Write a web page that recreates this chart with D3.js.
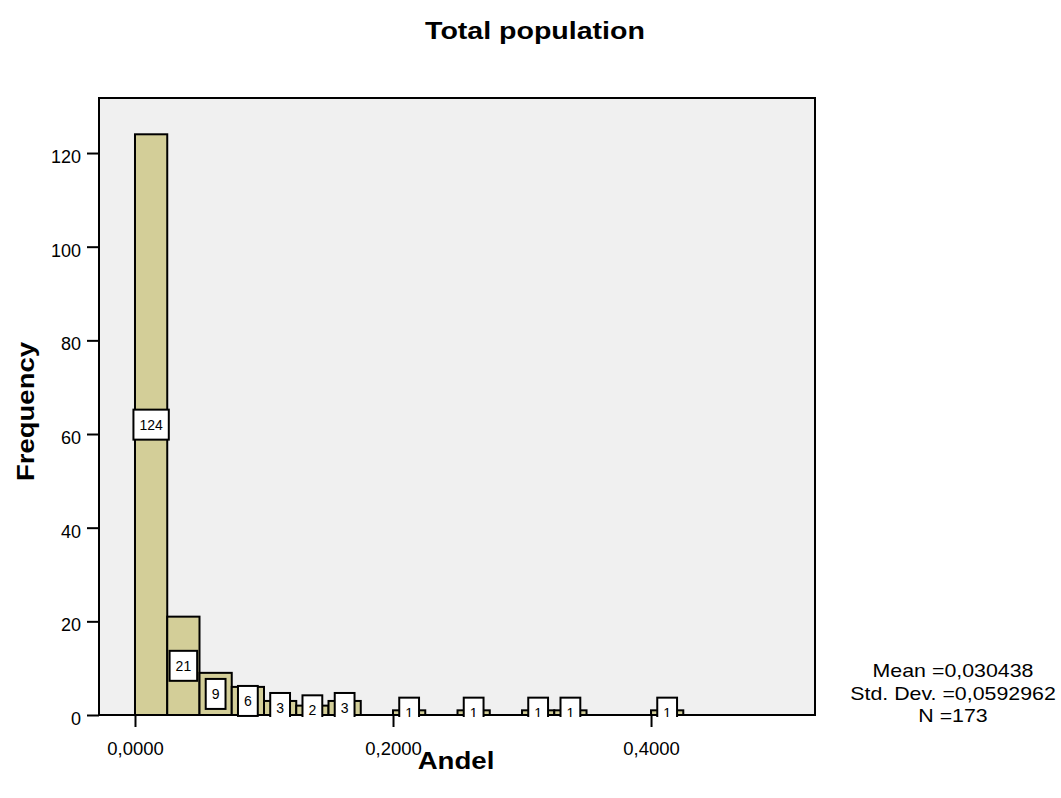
<!DOCTYPE html>
<html>
<head>
<meta charset="utf-8">
<script src="https://cdn.jsdelivr.net/npm/d3@7"></script>
<style>
  html, body { margin: 0; padding: 0; background: #ffffff; }
  svg { display: block; }
</style>
</head>
<body>
<svg id="chart" width="1061" height="798"></svg>
<script>
// ---- data ----
const binStarts = [0, 0.025, 0.05, 0.075, 0.1, 0.125, 0.15, 0.2, 0.25, 0.3, 0.325, 0.4];
const counts    = [124, 21, 9, 6, 3, 2, 3, 1, 1, 1, 1, 1];
const binWidth  = 0.025;
const xTicks = [0, 0.2, 0.4];
const xTickLabels = ["0,0000", "0,2000", "0,4000"];
const yTicks = [0, 20, 40, 60, 80, 100, 120];
const statLines = ["Mean =0,030438", "Std. Dev. =0,0592962", "N =173"];
const titleText = "Total population";
const xLabel = "Andel";
const yLabel = "Frequency";

// ---- layout ----
const L = 99, R = 815, T = 98, B = 715;
const svg = d3.select("#chart");
const x = d3.scaleLinear().domain([-0.0279, 0.5271]).range([L, R]);
const y = d3.scaleLinear().domain([0, 131.75]).range([B, T]);
const font = "'Liberation Sans', Arial, sans-serif";
const barFill = "#d3ce98";

// plot background
svg.append("rect").attr("x", L).attr("y", T).attr("width", R - L).attr("height", B - T)
  .attr("fill", "#f0f0f0");

// frame
svg.append("rect").attr("x", L).attr("y", T).attr("width", R - L).attr("height", B - T)
  .attr("fill", "none").attr("stroke", "#000").attr("stroke-width", 2);

// clip
svg.append("clipPath").attr("id", "plotclip").append("rect")
  .attr("x", L).attr("y", T).attr("width", R - L).attr("height", B - T + 2);

const data = binStarts.map((s, i) => ({ x0: s, x1: s + binWidth, n: counts[i] }));

const plot = svg.append("g").attr("clip-path", "url(#plotclip)");
plot.selectAll("rect.bar").data(data).join("rect").attr("class", "bar")
  .attr("x", d => x(d.x0)).attr("width", d => x(d.x1) - x(d.x0))
  .attr("y", d => y(d.n)).attr("height", d => y(0) - y(d.n))
  .attr("fill", barFill).attr("stroke", "#000").attr("stroke-width", 2);

// value labels
const lab = plot.selectAll("g.lab").data(data).join("g").attr("class", "lab")
  .attr("transform", d => `translate(${x((d.x0 + d.x1) / 2)},${(y(d.n) + y(0)) / 2})`);
const box = lab.append("rect");
const txt = lab.append("text").text(d => d.n)
  .attr("text-anchor", "middle").attr("y", 5)
  .attr("font-family", font).attr("font-size", 14).attr("fill", "#000");
txt.each(function (d) {
  const w = this.getComputedTextLength() + 12;
  d3.select(this.parentNode).select("rect")
    .attr("x", -w / 2).attr("y", -15).attr("width", w).attr("height", 30)
    .attr("fill", "#fff").attr("stroke", "#000").attr("stroke-width", 2);
});

// y axis
const yAxis = svg.append("g").attr("transform", `translate(${L},0)`)
  .call(d3.axisLeft(y).tickValues(yTicks).tickSize(12).tickPadding(6).tickFormat(d3.format("d")));
yAxis.select(".domain").remove();
yAxis.selectAll("line").attr("stroke", "#000").attr("stroke-width", 2);
yAxis.selectAll("text").attr("font-family", font).attr("font-size", 18).attr("fill", "#000")
  .attr("dy", "0.52em");

// x axis
const xAxis = svg.append("g").attr("transform", `translate(0,${B})`)
  .call(d3.axisBottom(x).tickValues(xTicks).tickSize(12).tickPadding(15)
    .tickFormat((d, i) => xTickLabels[i]));
xAxis.select(".domain").remove();
xAxis.selectAll("line").attr("stroke", "#000").attr("stroke-width", 2);
xAxis.selectAll("text").attr("font-family", font).attr("font-size", 18.5).attr("fill", "#000");

// title
svg.append("text").attr("transform", "translate(535,39) scale(1.19,1)")
  .attr("text-anchor", "middle").attr("font-family", font).attr("font-weight", "bold")
  .attr("font-size", 24).text(titleText);

// x label
svg.append("text").attr("transform", `translate(${(L + R) / 2 - 1},769) scale(1.2,1)`)
  .attr("text-anchor", "middle").attr("font-family", font).attr("font-weight", "bold")
  .attr("font-size", 23).text(xLabel);

// y label
svg.append("text").attr("transform", `translate(34,${(T + B) / 2 + 5}) rotate(-90) scale(1.17,1)`)
  .attr("text-anchor", "middle").attr("font-family", font).attr("font-weight", "bold")
  .attr("font-size", 23.5).text(yLabel);

// stats
const statY = [677, 699.5, 722];
statLines.forEach((s, i) => {
  svg.append("text").attr("transform", `translate(953,${statY[i]}) scale(1.22,1)`)
    .attr("text-anchor", "middle").attr("font-family", font).attr("font-size", 17.5)
    .attr("fill", "#000").text(s);
});
</script>
</body>
</html>
